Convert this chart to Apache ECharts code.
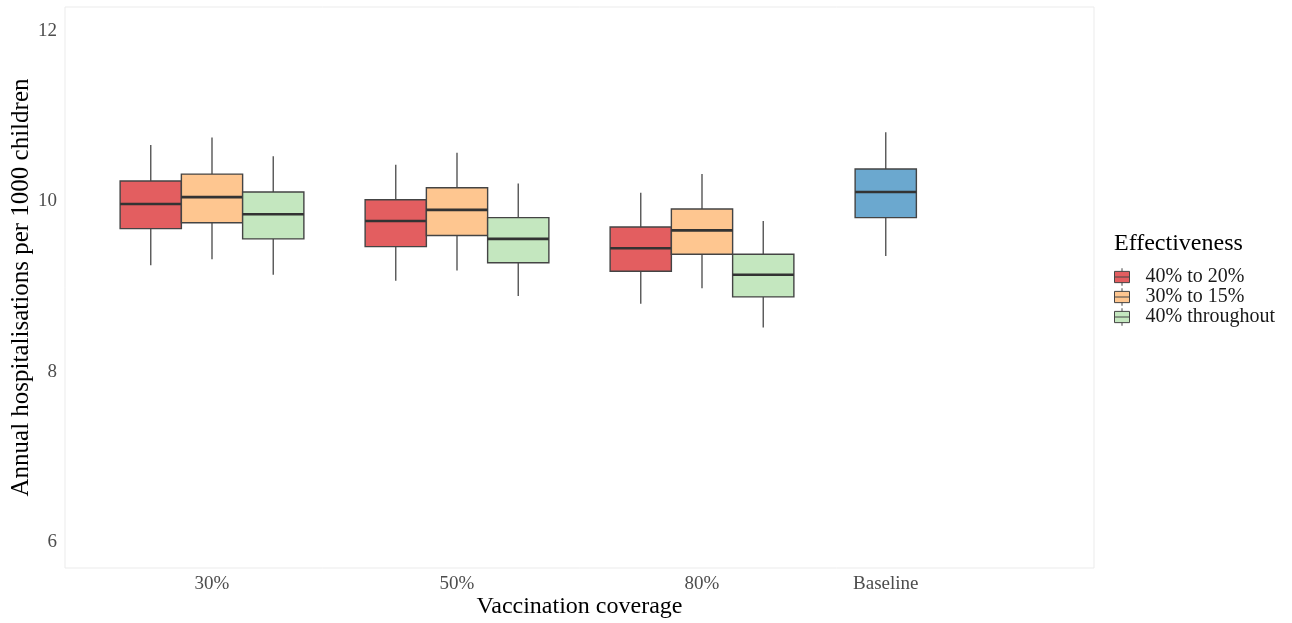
<!DOCTYPE html>
<html>
<head>
<meta charset="utf-8">
<script src="https://cdn.jsdelivr.net/npm/echarts@6/dist/echarts.min.js"></script>
<style>html,body{margin:0;padding:0;background:#fff}#c{width:1292px;height:623px}</style>
</head>
<body>
<div id="c"></div>
<script>
// ---- data ----
const coverage = ['30%', '50%', '80%'];
const xTickLabels = ['30%', '50%', '80%', 'Baseline'];
const yTickLabels = [6, 8, 10, 12];
const seriesNames = ['40% to 20%', '30% to 15%', '40% throughout'];
// [min, q1, median, q3, max] per coverage
const eff40to20 = [[9.25, 9.68, 9.97, 10.24, 10.66], [9.07, 9.47, 9.77, 10.02, 10.43], [8.80, 9.18, 9.45, 9.70, 10.10]];
const eff30to15 = [[9.32, 9.75, 10.05, 10.32, 10.75], [9.19, 9.60, 9.90, 10.16, 10.57], [8.98, 9.38, 9.66, 9.91, 10.32]];
const eff40thr = [[9.14, 9.56, 9.85, 10.11, 10.53], [8.89, 9.28, 9.56, 9.81, 10.21], [8.52, 8.88, 9.14, 9.38, 9.77]];
const baseline = [9.36, 9.81, 10.11, 10.38, 10.81];

// ---- layout / style ----
const FONT = 'Liberation Serif';
const colors = ['#E35E60', '#FEC690', '#C4E7BF'];
const baselineColor = '#6BA8CF';
const dodge = [-0.25, 0, 0.25];
const boxW = 0.25;
const xTickPos = [1, 2, 3, 3.75];

function renderBox(params, api) {
  const x = api.value(0);
  const half = api.size([boxW, 0])[0] / 2;
  const pMin = api.coord([x, api.value(1)]);
  const pQ1 = api.coord([x, api.value(2)]);
  const pMed = api.coord([x, api.value(3)]);
  const pQ3 = api.coord([x, api.value(4)]);
  const pMax = api.coord([x, api.value(5)]);
  const cx = pMed[0];
  const wStyle = { stroke: '#555555', lineWidth: 1.4 };
  return {
    type: 'group',
    children: [
      { type: 'line', shape: { x1: cx, y1: pQ3[1], x2: cx, y2: pMax[1] }, style: wStyle },
      { type: 'line', shape: { x1: cx, y1: pQ1[1], x2: cx, y2: pMin[1] }, style: wStyle },
      { type: 'rect', shape: { x: cx - half, y: pQ3[1], width: 2 * half, height: pQ1[1] - pQ3[1] },
        style: { fill: api.visual('color'), stroke: '#444444', lineWidth: 1.4 } },
      { type: 'line', shape: { x1: cx - half, y1: pMed[1], x2: cx + half, y2: pMed[1] },
        style: { stroke: '#333333', lineWidth: 2.6 } }
    ]
  };
}

const groups = [eff40to20, eff30to15, eff40thr];
const series = groups.map((g, si) => ({
  name: seriesNames[si],
  type: 'custom',
  renderItem: renderBox,
  itemStyle: { color: colors[si] },
  encode: { x: 0, y: [1, 2, 3, 4, 5] },
  data: g.map((v, ci) => [ci + 1 + dodge[si]].concat(v))
}));
series.push({
  name: 'Baseline',
  type: 'custom',
  renderItem: renderBox,
  itemStyle: { color: baselineColor },
  encode: { x: 0, y: [1, 2, 3, 4, 5] },
  data: [[xTickPos[3]].concat(baseline)]
});

const chart = echarts.init(document.getElementById('c'), null, { renderer: 'canvas' });
chart.setOption({
  animation: false,
  backgroundColor: '#ffffff',
  title: {
    text: 'Effectiveness', left: 1114, top: 232, padding: 0,
    textStyle: { fontFamily: FONT, fontSize: 24, fontWeight: 'normal', color: '#000' }
  },
  legend: {
    data: seriesNames,
    orient: 'vertical', left: 1114, top: 267, padding: 0,
    itemWidth: 15, itemHeight: 18, itemGap: 0,
    icon: 'path://M6,0L6,2.5M0,2.5L12,2.5L12,11.5L0,11.5ZM0,7L12,7M6,11.5L6,14',
    itemStyle: { borderColor: '#444', borderWidth: 1 },
    textStyle: { fontFamily: FONT, fontSize: 20, lineHeight: 18, color: '#1a1a1a', padding: [0, 0, 0, 11] }
  },
  grid: { left: 65, right: 198, top: 7, bottom: 55, outerBoundsMode: 'none', containLabel: false,
    show: true, borderColor: '#ebebeb', borderWidth: 1, backgroundColor: '#fff' },
  xAxis: {
    type: 'value', min: 0.4, max: 4.6, interval: 0.05,
    name: 'Vaccination coverage', nameLocation: 'middle', nameGap: 27, nameMoveOverlap: false,
    nameTextStyle: { fontFamily: FONT, fontSize: 24, color: '#000' },
    axisLine: { show: false }, axisTick: { show: false }, splitLine: { show: false },
    axisLabel: {
      fontFamily: FONT, fontSize: 19, color: '#4d4d4d', margin: 7,
      showMinLabel: true, showMaxLabel: true,
      formatter: function (v) {
        for (let i = 0; i < xTickPos.length; i++) if (Math.abs(v - xTickPos[i]) < 1e-6) return xTickLabels[i];
        return '';
      }
    }
  },
  yAxis: {
    type: 'value', min: 5.7, max: 12.28, interval: 0.1,
    name: 'Annual hospitalisations per 1000 children', nameLocation: 'middle', nameGap: 31, nameMoveOverlap: false,
    nameTextStyle: { fontFamily: FONT, fontSize: 25, color: '#000' },
    axisLine: { show: false }, axisTick: { show: false }, splitLine: { show: false },
    axisLabel: {
      fontFamily: FONT, fontSize: 19, color: '#4d4d4d', margin: 8,
      formatter: function (v) {
        for (let i = 0; i < yTickLabels.length; i++) if (Math.abs(v - yTickLabels[i]) < 1e-6) return String(yTickLabels[i]);
        return '';
      }
    }
  },
  series: series
});
</script>
</body>
</html>
